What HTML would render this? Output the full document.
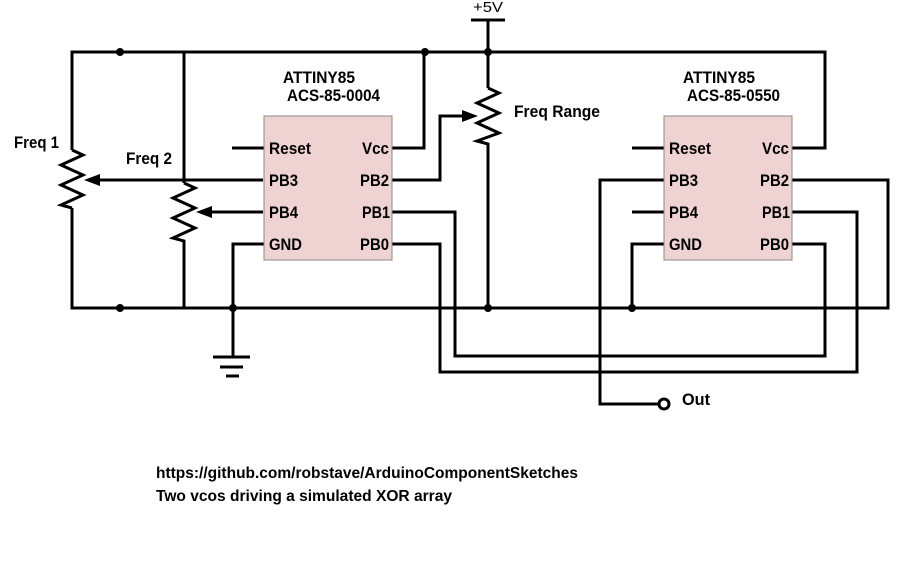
<!DOCTYPE html>
<html><head><style>body{margin:0;background:#fff}svg{display:block}text{font-family:"Liberation Sans",sans-serif;font-weight:bold;font-size:17px;fill:#000}</style></head>
<body>
<svg width="903" height="569" viewBox="0 0 903 569" xmlns="http://www.w3.org/2000/svg">
<g fill="none" stroke="#000" stroke-width="3">
<polyline points="72,150 72,52 825,52 825,148 792,148"/>
<polyline points="72,208 72,308 888,308 888,180 792,180"/>
<polyline points="72,150 83,155 61,165 83,175 61,185 83,195 61,205 72,208"/>
<polyline points="184,52 184,183"/>
<polyline points="184,183 195,188 173,198 195,208 173,218 195,228 173,238 184,241 184,308"/>
<line x1="95" y1="180" x2="263" y2="180"/>
<line x1="205" y1="212" x2="263" y2="212"/>
<line x1="232" y1="148" x2="264" y2="148"/>
<polyline points="264,244 233,244 233,357"/>
<line x1="213" y1="357" x2="250" y2="357"/>
<line x1="220" y1="367" x2="243" y2="367"/>
<line x1="226" y1="376" x2="239" y2="376"/>
<polyline points="392,148 424,148 424,52"/>
<polyline points="392,180 440,180 440,116 466,116"/>
<polyline points="392,212 455,212 455,356 825,356 825,244 792,244"/>
<polyline points="392,244 440,244 440,372 857,372 857,212 792,212"/>
<line x1="488" y1="20" x2="488" y2="88"/>
<line x1="471" y1="20" x2="505" y2="20"/>
<polyline points="488,88 499,93 477,103 499,113 477,123 499,133 477,141 488,144 488,308"/>
<line x1="632" y1="148" x2="664" y2="148"/>
<line x1="632" y1="212" x2="664" y2="212"/>
<polyline points="664,244 632,244 632,308"/>
<polyline points="664,180 600,180 600,404 659,404"/>
</g>
<circle cx="664" cy="404" r="5" fill="#fff" stroke="#000" stroke-width="3"/>
<polygon points="84,180 100,174 100,186" fill="#000"/>
<polygon points="196,212 212,206 212,218" fill="#000"/>
<polygon points="478,116 462,110 462,122" fill="#000"/>
<g fill="#000">
<circle cx="120" cy="52" r="4"/><circle cx="425" cy="52" r="4"/><circle cx="488" cy="52" r="4"/>
<circle cx="120" cy="308" r="4"/><circle cx="233" cy="308" r="4"/><circle cx="488" cy="308" r="4"/><circle cx="632" cy="308" r="4"/>
</g>
<rect x="264" y="116" width="128" height="144" fill="#efd3d3" stroke="#888" stroke-width="1"/>
<rect x="664" y="116" width="128" height="144" fill="#efd3d3" stroke="#888" stroke-width="1"/>
<g>
<text x="269" y="154" textLength="42" lengthAdjust="spacingAndGlyphs">Reset</text>
<text x="269" y="186" textLength="29" lengthAdjust="spacingAndGlyphs">PB3</text>
<text x="269" y="218" textLength="29" lengthAdjust="spacingAndGlyphs">PB4</text>
<text x="269" y="250" textLength="33" lengthAdjust="spacingAndGlyphs">GND</text>
<text x="362" y="154" textLength="27" lengthAdjust="spacingAndGlyphs">Vcc</text>
<text x="360" y="186" textLength="29" lengthAdjust="spacingAndGlyphs">PB2</text>
<text x="362" y="218" textLength="28" lengthAdjust="spacingAndGlyphs">PB1</text>
<text x="360" y="250" textLength="29" lengthAdjust="spacingAndGlyphs">PB0</text>
<text x="669" y="154" textLength="42" lengthAdjust="spacingAndGlyphs">Reset</text>
<text x="669" y="186" textLength="29" lengthAdjust="spacingAndGlyphs">PB3</text>
<text x="669" y="218" textLength="29" lengthAdjust="spacingAndGlyphs">PB4</text>
<text x="669" y="250" textLength="33" lengthAdjust="spacingAndGlyphs">GND</text>
<text x="762" y="154" textLength="27" lengthAdjust="spacingAndGlyphs">Vcc</text>
<text x="760" y="186" textLength="29" lengthAdjust="spacingAndGlyphs">PB2</text>
<text x="762" y="218" textLength="28" lengthAdjust="spacingAndGlyphs">PB1</text>
<text x="760" y="250" textLength="29" lengthAdjust="spacingAndGlyphs">PB0</text>
<text x="283" y="83" textLength="72" lengthAdjust="spacingAndGlyphs">ATTINY85</text>
<text x="287" y="101" textLength="93" lengthAdjust="spacingAndGlyphs">ACS-85-0004</text>
<text x="683" y="83" textLength="72" lengthAdjust="spacingAndGlyphs">ATTINY85</text>
<text x="687" y="101" textLength="93" lengthAdjust="spacingAndGlyphs">ACS-85-0550</text>
<text x="14" y="148" textLength="45" lengthAdjust="spacingAndGlyphs">Freq 1</text>
<text x="126" y="164" textLength="46" lengthAdjust="spacingAndGlyphs">Freq 2</text>
<text x="514" y="117" textLength="86" lengthAdjust="spacingAndGlyphs">Freq Range</text>
<text x="682" y="405" textLength="28" lengthAdjust="spacingAndGlyphs">Out</text>
<text x="473" y="12" textLength="30" lengthAdjust="spacingAndGlyphs" style="font-weight:normal;font-size:15px">+5V</text>
<text x="156" y="478" textLength="422" lengthAdjust="spacingAndGlyphs" style="font-size:16px">https://github.com/robstave/ArduinoComponentSketches</text>
<text x="156" y="501" textLength="296" lengthAdjust="spacingAndGlyphs" style="font-size:16px">Two vcos driving a simulated XOR array</text>
</g>
</svg>
</body></html>
